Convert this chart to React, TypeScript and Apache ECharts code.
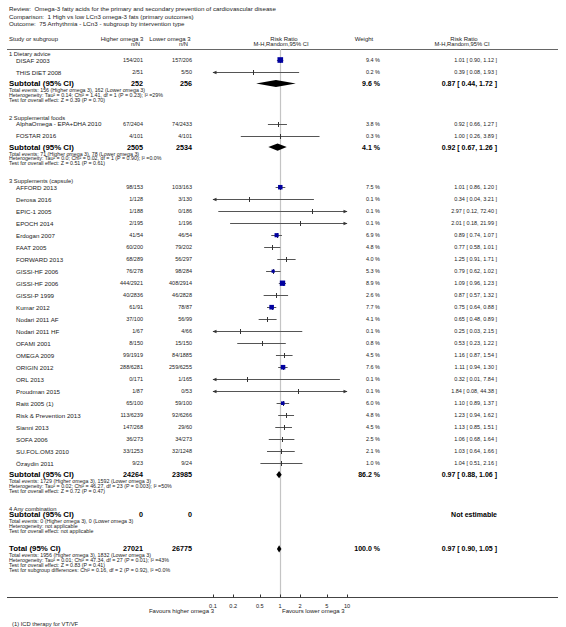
import React, { useEffect, useRef } from "react";
import * as echarts from "echarts";

// ---------------- data ----------------
const titleLines = [
  "Review:  Omega-3 fatty acids for the primary and secondary prevention of cardiovascular disease",
  "Comparison:  1 High vs low LCn3 omega-3 fats (primary outcomes)",
  "Outcome:  75 Arrhythmia - LCn3 - subgroup by intervention type",
];

const groupLabels = ["1 Dietary advice", "2 Supplemental foods", "3 Supplements (capsule)", "4 Any combination"];

const studyNames = [
  "DISAF 2003", "THIS DIET 2008",
  "AlphaOmega - EPA+DHA 2010", "FOSTAR 2016",
  "AFFORD 2013", "Derosa 2016", "EPIC-1 2005", "EPOCH 2014", "Erdogan 2007", "FAAT 2005",
  "FORWARD 2013", "GISSI-HF 2006", "GISSI-HF 2006", "GISSI-P 1999", "Kumar 2012", "Nodari 2011 AF",
  "Nodari 2011 HF", "OFAMI 2001", "OMEGA 2009", "ORIGIN 2012", "ORL 2013", "Proudman 2015",
  "Raitt 2005 (1)", "Risk & Prevention 2013", "Sianni 2013", "SOFA 2006", "SU.FOL.OM3 2010", "Özaydin 2011",
];
const studyGroups = [0, 0, 1, 1, 2, 2, 2, 2, 2, 2, 2, 2, 2, 2, 2, 2, 2, 2, 2, 2, 2, 2, 2, 2, 2, 2, 2, 2];
const higherEvents = [154, 2, 67, 4, 98, 1, 1, 2, 41, 60, 68, 76, 444, 40, 61, 37, 1, 8, 99, 288, 0, 1, 65, 113, 147, 36, 33, 9];
const higherTotals = [201, 51, 2404, 101, 153, 128, 188, 195, 54, 200, 289, 278, 2921, 2836, 91, 100, 67, 150, 1919, 6281, 171, 87, 100, 6239, 268, 273, 1253, 23];
const lowerEvents = [157, 5, 74, 4, 103, 3, 0, 1, 46, 79, 56, 98, 408, 46, 78, 56, 4, 15, 84, 259, 1, 0, 59, 92, 29, 34, 32, 9];
const lowerTotals = [206, 50, 2433, 101, 163, 130, 186, 196, 54, 202, 297, 284, 2914, 2828, 87, 99, 66, 150, 1885, 6255, 165, 53, 100, 6266, 60, 273, 1248, 24];
const studyWeights = [9.4, 0.2, 3.8, 0.3, 7.5, 0.1, 0.1, 0.1, 6.9, 4.8, 4.0, 5.3, 8.9, 2.6, 7.7, 4.1, 0.1, 0.8, 4.5, 7.6, 0.1, 0.1, 6.0, 4.8, 4.5, 2.5, 2.1, 1.0];
const studyRR = [1.01, 0.39, 0.92, 1.0, 1.01, 0.34, 2.97, 2.01, 0.89, 0.77, 1.25, 0.79, 1.09, 0.87, 0.75, 0.65, 0.25, 0.53, 1.16, 1.11, 0.32, 1.84, 1.1, 1.23, 1.13, 1.06, 1.03, 1.04];
const studyLow = [0.9, 0.08, 0.66, 0.26, 0.86, 0.04, 0.12, 0.18, 0.74, 0.58, 0.91, 0.62, 0.96, 0.57, 0.64, 0.48, 0.03, 0.23, 0.87, 0.94, 0.01, 0.08, 0.89, 0.94, 0.85, 0.68, 0.64, 0.51];
const studyHigh = [1.12, 1.93, 1.27, 3.89, 1.2, 3.21, 72.4, 21.99, 1.07, 1.01, 1.71, 1.02, 1.23, 1.32, 0.88, 0.89, 2.15, 1.22, 1.54, 1.3, 7.84, 44.38, 1.37, 1.62, 1.51, 1.64, 1.66, 2.16];

const subtotalHigherN = [252, 2505, 24264, 0];
const subtotalLowerN = [256, 2534, 23985, 0];
const subtotalWeights: (number | null)[] = [9.6, 4.1, 86.2, null];
const subtotalRR: (number | null)[] = [0.87, 0.92, 0.97, null];
const subtotalLow: (number | null)[] = [0.44, 0.67, 0.88, null];
const subtotalHigh: (number | null)[] = [1.72, 1.26, 1.06, null];
const subtotalHigherEvents = [156, 71, 1729, 0];
const subtotalLowerEvents = [162, 78, 1592, 0];
const subtotalHeterogeneity = [
  "Heterogeneity: Tau² = 0.14; Chi² = 1.41, df = 1 (P = 0.23); I² =29%",
  "Heterogeneity: Tau² = 0.0; Chi² = 0.02, df = 1 (P = 0.90); I² =0.0%",
  "Heterogeneity: Tau² = 0.02; Chi² = 46.27, df = 23 (P = 0.003); I² =50%",
  "Heterogeneity: not applicable",
];
const subtotalOverall = [
  "Test for overall effect: Z = 0.39 (P = 0.70)",
  "Test for overall effect: Z = 0.51 (P = 0.61)",
  "Test for overall effect: Z = 0.72 (P = 0.47)",
  "Test for overall effect: not applicable",
];

const totalHigherN = 27021;
const totalLowerN = 26775;
const totalWeight = 100.0;
const totalRR = 0.97;
const totalLow = 0.9;
const totalHigh = 1.05;
const totalHigherEvents = 1956;
const totalLowerEvents = 1832;
const totalNotes = [
  "Heterogeneity: Tau² = 0.01; Chi² = 47.34, df = 27 (P = 0.01); I² =43%",
  "Test for overall effect: Z = 0.83 (P = 0.41)",
  "Test for subgroup differences: Chi² = 0.16, df = 2 (P = 0.92), I² =0.0%",
];

const axisTicks = [0.1, 0.2, 0.5, 1, 2, 5, 10];
const axisTickLabels = ["0.1", "0.2", "0.5", "1", "2", "5", "10"];
const favoursLeft = "Favours higher omega 3";
const favoursRight = "Favours lower omega 3";
const footnote = "(1) ICD therapy for VT/VF";

// ---------------- layout ----------------
const W = 566;
const H = 627;
const FONT = '"Liberation Sans", Arial, Helvetica, sans-serif';
const AXIS_MIN = 0.1;
const AXIS_MAX = 10;
const PLOT_LEFT = 213;
const PLOT_RIGHT = 347;
const HEADER_LINE_Y = 49;
const AXIS_Y = 597;
const X_LEFT = 9;
const X_STUDY = 16;
const X_HIGH_R = 143;
const X_LOW_R = 192;
const X_WEIGHT_R = 380;
const X_RR_R = 497;
const TEXT = "#222";
const BLUE = "#0000a0";

type Row =
  | { kind: "group"; g: number; y: number }
  | { kind: "study"; i: number; y: number }
  | { kind: "subtotal"; g: number; y: number }
  | { kind: "total"; y: number }
  | { kind: "note"; text: string; y: number };

function buildRows(): Row[] {
  const rows: Row[] = [];
  let y = 54;
  for (let g = 0; g < groupLabels.length; g++) {
    rows.push({ kind: "group", g, y });
    y += 6;
    const idxs = studyNames.map((_, i) => i).filter((i) => studyGroups[i] === g);
    idxs.forEach((i) => {
      rows.push({ kind: "study", i, y });
      y += 12;
    });
    if (idxs.length) y -= 0.5;
    rows.push({ kind: "subtotal", g, y });
    y += 6.5;
    rows.push({
      kind: "note",
      text: `Total events: ${subtotalHigherEvents[g]} (Higher omega 3), ${subtotalLowerEvents[g]} (Lower omega 3)`,
      y,
    });
    y += 4.8;
    rows.push({ kind: "note", text: subtotalHeterogeneity[g], y });
    y += 4.8;
    rows.push({ kind: "note", text: subtotalOverall[g], y });
    y += 18;
  }
  rows.push({ kind: "total", y });
  y += 6.5;
  rows.push({ kind: "note", text: `Total events: ${totalHigherEvents} (Higher omega 3), ${totalLowerEvents} (Lower omega 3)`, y });
  totalNotes.forEach((t) => {
    y += 4.8;
    rows.push({ kind: "note", text: t, y });
  });
  return rows;
}

const rows = buildRows();

const fmtRR = (r: number, l: number, u: number) => `${r.toFixed(2)} [ ${l.toFixed(2)}, ${u.toFixed(2)} ]`;
const fmtW = (w: number) => `${w.toFixed(1)} %`;

function txt(text: string, x: number, y: number, size: number, opts: { align?: string; bold?: boolean; fill?: string } = {}) {
  return {
    type: "text",
    x,
    y,
    silent: true,
    style: {
      text,
      fill: opts.fill ?? TEXT,
      font: `${opts.bold ? "bold " : ""}${size}px ${FONT}`,
      align: opts.align ?? "left",
      verticalAlign: "middle",
    },
  };
}

function renderRow(params: any, api: any) {
  const r = rows[params.dataIndex];
  const yy = api.coord([1, r.y])[1];
  const ly = Math.round(yy) + 0.5;
  const children: any[] = [];
  if (r.kind === "group") {
    children.push(txt(groupLabels[r.g], X_LEFT, yy, 5.8));
  } else if (r.kind === "note") {
    children.push(txt(r.text, X_LEFT, yy, 5.3));
  } else if (r.kind === "study") {
    const i = r.i;
    children.push(txt(studyNames[i], X_STUDY, yy, 6.2));
    children.push(txt(`${higherEvents[i]}/${higherTotals[i]}`, X_HIGH_R, yy, 5.5, { align: "right" }));
    children.push(txt(`${lowerEvents[i]}/${lowerTotals[i]}`, X_LOW_R, yy, 5.5, { align: "right" }));
    children.push(txt(fmtW(studyWeights[i]), X_WEIGHT_R, yy, 5.5, { align: "right" }));
    children.push(txt(fmtRR(studyRR[i], studyLow[i], studyHigh[i]), X_RR_R, yy, 5.5, { align: "right" }));
    const lo = Math.max(studyLow[i], AXIS_MIN);
    const hi = Math.min(studyHigh[i], AXIS_MAX);
    const pl = api.coord([lo, r.y])[0];
    const ph = api.coord([hi, r.y])[0];
    const pe = api.coord([studyRR[i], r.y])[0];
    children.push({ type: "line", silent: true, shape: { x1: pl, y1: ly, x2: ph, y2: ly }, style: { stroke: "#555", lineWidth: 1 } });
    if (studyLow[i] < AXIS_MIN) {
      children.push({ type: "polygon", silent: true, shape: { points: [[pl - 0.5, ly], [pl + 3.5, ly - 1.8], [pl + 3.5, ly + 1.8]] }, style: { fill: "#333" } });
    }
    if (studyHigh[i] > AXIS_MAX) {
      children.push({ type: "polygon", silent: true, shape: { points: [[ph + 0.5, ly], [ph - 3.5, ly - 1.8], [ph - 3.5, ly + 1.8]] }, style: { fill: "#333" } });
    }
    const px = Math.round(pe) + 0.5;
    children.push({ type: "line", silent: true, shape: { x1: px, y1: ly - 2.5, x2: px, y2: ly + 2.5 }, style: { stroke: "#333", lineWidth: 1 } });
    const side = studyWeights[i] * 0.6;
    if (side >= 3) {
      children.push({ type: "rect", silent: true, shape: { x: pe - side / 2, y: yy - side / 2, width: side, height: side }, style: { fill: BLUE } });
    }
  } else if (r.kind === "subtotal" || r.kind === "total") {
    const isTotal = r.kind === "total";
    const label = isTotal ? "Total (95% CI)" : "Subtotal (95% CI)";
    const hN = isTotal ? totalHigherN : subtotalHigherN[r.g];
    const lN = isTotal ? totalLowerN : subtotalLowerN[r.g];
    const w = isTotal ? totalWeight : subtotalWeights[r.g];
    const rr = isTotal ? totalRR : subtotalRR[r.g];
    const l = isTotal ? totalLow : subtotalLow[r.g];
    const u = isTotal ? totalHigh : subtotalHigh[r.g];
    children.push(txt(label, X_LEFT, yy, 7.9, { bold: true, fill: "#000" }));
    children.push(txt(String(hN), X_HIGH_R, yy, 7.2, { bold: true, align: "right", fill: "#000" }));
    children.push(txt(String(lN), X_LOW_R, yy, 7.2, { bold: true, align: "right", fill: "#000" }));
    if (w != null && rr != null && l != null && u != null) {
      children.push(txt(fmtW(w), X_WEIGHT_R, yy, 7, { bold: true, align: "right", fill: "#000" }));
      children.push(txt(fmtRR(rr, l, u), X_RR_R, yy, 7, { bold: true, align: "right", fill: "#000" }));
      const pl = api.coord([l, r.y])[0];
      const ph = api.coord([u, r.y])[0];
      const pe = api.coord([rr, r.y])[0];
      children.push({
        type: "polygon",
        silent: true,
        shape: { points: [[pl, yy], [pe, yy - 3.6], [ph, yy], [pe, yy + 3.6]] },
        style: { fill: "#000" },
      });
    } else {
      children.push(txt("Not estimable", X_RR_R, yy, 7, { bold: true, align: "right", fill: "#000" }));
    }
  }
  return { type: "group", children };
}

function renderAxisTick(params: any, api: any) {
  const i = params.dataIndex;
  const p = api.coord([axisTicks[i], AXIS_Y]);
  const x = Math.round(p[0]) + 0.5;
  const y = Math.round(p[1]) + 0.5;
  return {
    type: "group",
    children: [
      { type: "line", silent: true, shape: { x1: x, y1: y - 3, x2: x, y2: y }, style: { stroke: "#333", lineWidth: 1 } },
      txt(axisTickLabels[i], p[0], y + 8, 5.6, { align: "center" }),
    ],
  };
}

function renderRefLine(params: any, api: any) {
  const top = api.coord([1, HEADER_LINE_Y]);
  const bottom = api.coord([1, AXIS_Y]);
  const x = Math.round(top[0]) + 0.5;
  return {
    type: "line",
    silent: true,
    shape: { x1: x, y1: top[1], x2: x, y2: bottom[1] },
    style: { stroke: "#c4c4c4", lineWidth: 1.2 },
  };
}

function buildOption() {
  const graphics: any[] = [];
  titleLines.forEach((t, k) => graphics.push({ ...txt(t, X_LEFT, 8.5 + k * 7.6, 6.2) }));
  graphics.push(txt("Study or subgroup", X_LEFT, 38.5, 6));
  graphics.push(txt("Higher omega 3", 122, 38.5, 6, { align: "center" }));
  graphics.push(txt("n/N", 140, 44, 5.8, { align: "right" }));
  graphics.push(txt("Lower omega 3", 170, 38.5, 6, { align: "center" }));
  graphics.push(txt("n/N", 188, 44, 5.8, { align: "right" }));
  graphics.push(txt("Risk Ratio", 284, 38.5, 6, { align: "center" }));
  graphics.push(txt("M-H,Random,95% CI", 281, 44, 5.8, { align: "center" }));
  graphics.push(txt("Weight", 364, 38.5, 6, { align: "center" }));
  graphics.push(txt("Risk Ratio", 464, 38.5, 6, { align: "center" }));
  graphics.push(txt("M-H,Random,95% CI", 462, 44, 5.8, { align: "center" }));
  graphics.push({ type: "line", silent: true, shape: { x1: 7, y1: HEADER_LINE_Y + 0.5, x2: 558, y2: HEADER_LINE_Y + 0.5 }, style: { stroke: "#666", lineWidth: 1 } });
  graphics.push({ type: "line", silent: true, shape: { x1: 7, y1: AXIS_Y + 0.5, x2: 558, y2: AXIS_Y + 0.5 }, style: { stroke: "#444", lineWidth: 1 } });
  graphics.push(txt(favoursLeft, 214, 611, 6, { align: "right" }));
  graphics.push(txt(favoursRight, 282, 611, 6));
  graphics.push(txt(footnote, 12, 624, 5.8));

  return {
    animation: false,
    backgroundColor: "#fff",
    grid: { left: PLOT_LEFT, width: PLOT_RIGHT - PLOT_LEFT, top: 0, height: H },
    xAxis: { type: "log", logBase: 10, min: AXIS_MIN, max: AXIS_MAX, show: false },
    yAxis: { type: "value", min: 0, max: H, inverse: true, show: false },
    graphic: { elements: graphics },
    series: [
      { type: "custom", silent: true, clip: false, renderItem: renderRefLine, data: [[1, HEADER_LINE_Y]], z: 1 },
      { type: "custom", silent: true, clip: false, renderItem: renderRow, data: rows.map((r) => [1, r.y]), z: 2 },
      { type: "custom", silent: true, clip: false, renderItem: renderAxisTick, data: axisTicks.map((t) => [t, AXIS_Y]), z: 2 },
    ],
  };
}

export default function App() {
  const ref = useRef<HTMLDivElement>(null);
  useEffect(() => {
    if (!ref.current) return;
    const chart = echarts.init(ref.current, null, { renderer: "svg" });
    chart.setOption(buildOption() as any);
    return () => chart.dispose();
  }, []);
  return (
    <div
      ref={ref}
      style={{ position: "fixed", left: 0, top: 0, width: W, height: H, background: "#fff" }}
    />
  );
}
